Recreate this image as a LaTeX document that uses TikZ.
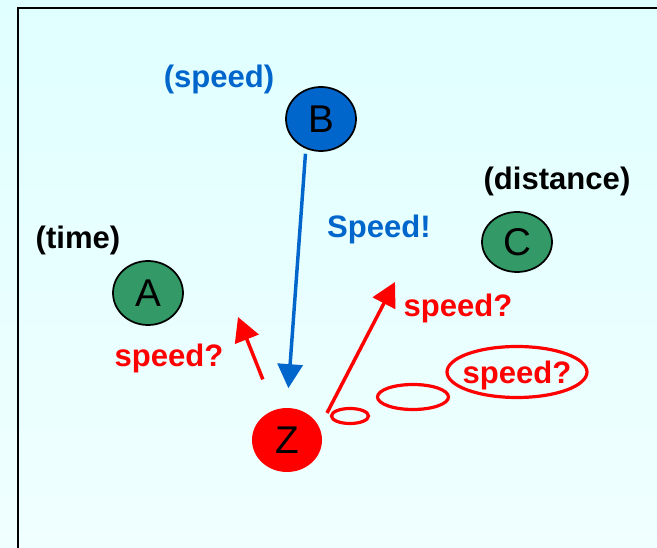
\documentclass[tikz,border=0pt]{standalone}
\usepackage{fontspec}
\setmainfont{Liberation Sans}
\usetikzlibrary{arrows.meta,shapes.geometric}
\definecolor{skyblue}{HTML}{0066CC}
\definecolor{leaf}{HTML}{339966}
\definecolor{hotred}{HTML}{FF0000}
\definecolor{paletop}{HTML}{E0FFFF}
\definecolor{palebot}{HTML}{F0FFFF}
\begin{document}
\begin{tikzpicture}[x=0.75pt,y=-0.75pt,
    var/.style={ellipse,draw=black,line width=1.3pt,minimum width=52.5pt,
      minimum height=48pt,inner sep=0pt,font=\fontsize{29}{30}\selectfont},
    tag/.style={font=\bfseries\fontsize{23.3}{25}\selectfont},
    ask/.style={draw=hotred,line width=2.6pt,-{Triangle[length=18pt,width=18.75pt]}},
    puff/.style={ellipse,draw=hotred,line width=2.4pt,inner sep=0pt}]
  \shade[top color=paletop,bottom color=palebot] (0,0) rectangle (657,548);
  \useasboundingbox (0,0) rectangle (657,548);
  \draw[line width=2pt] (18,548) -- (18,8) -- (657,8);
  % variables
  \node[var,fill=leaf] (A) at (148,293) {A};
  \node[var,fill=skyblue] (B) at (321,119) {B};
  \node[var,fill=leaf,minimum height=45pt] (C) at (517,242) {C};
  \node[var,fill=hotred,draw=none] (Z) at (287,440) {Z};
  % labels
  \node[tag] (lA) at (78,240) {(time)};
  \node[tag,text=skyblue] (lB) at (219,79) {(speed)};
  \node[tag] (lC) at (557,181) {(distance)};
  \node[tag,text=skyblue] (lBZ) at (379,229) {Speed!};
  \node[tag,text=hotred] (qA) at (169,358) {speed?};
  \node[tag,text=hotred] (qC) at (458,308) {speed?};
  % thought bubbles
  \node[puff,minimum width=27.75pt,minimum height=11.25pt] (t1) at (350,416) {};
  \node[puff,minimum width=53.25pt,minimum height=18.75pt] (t2) at (413,397) {};
  \node[puff,minimum width=105pt,minimum height=38.25pt] (t3) at (517,372) {};
  \node[tag,text=hotred] (q3) at ([yshift=-2.5pt]t3) {speed?};
  % arrows
  \coordinate (aimA) at (238,317);
  \coordinate (fromZ) at (327,413);
  \coordinate (aimC) at (395,282);
  \draw[skyblue,line width=2.6pt,-{Triangle[length=18pt,width=18.75pt]},
    shorten <=3.75pt,shorten >=14.25pt] (B.243) -- (Z.north);
  \draw[ask,shorten <=24pt] (Z) -- (aimA);
  \draw[ask] (fromZ) -- (aimC);
\end{tikzpicture}
\end{document}
